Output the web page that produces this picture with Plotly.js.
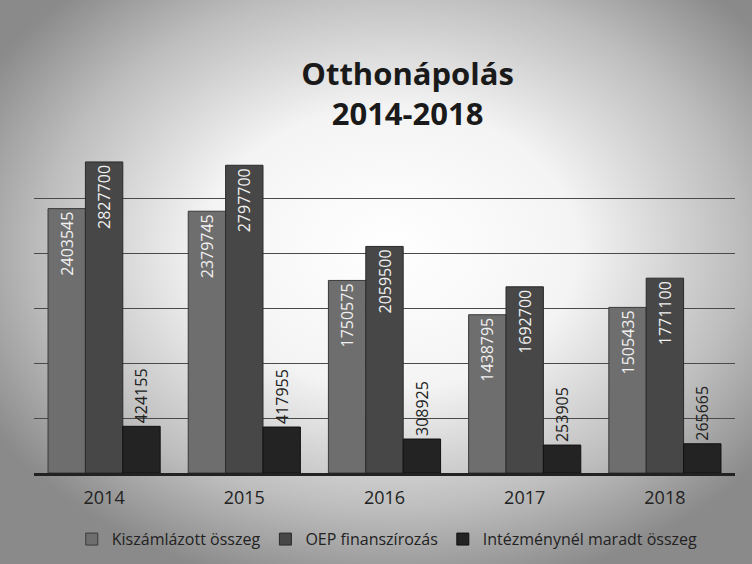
<!DOCTYPE html>
<html>
<head>
<meta charset="utf-8">
<script src="https://cdn.plot.ly/plotly-3.0.1.min.js"></script>
<style>
  html, body { margin: 0; padding: 0; }
  body {
    width: 752px; height: 564px; overflow: hidden;
    background: radial-gradient(ellipse 62% 62% at 52% 44%, #ffffff 0%, #f4f4f4 40%, #bdbdbd 75%, #8a8a8a 100%);
  }
  #chart { width: 752px; height: 564px; }
</style>
</head>
<body>
<div id="chart"></div>
<script>
const categories = ['2014', '2015', '2016', '2017', '2018'];
const seriesNames = ['Kiszámlázott összeg', 'OEP finanszírozás', 'Intézménynél maradt összeg'];
const kiszamlazott = [2403545, 2379745, 1750575, 1438795, 1505435];
const oep = [2827700, 2797700, 2059500, 1692700, 1771100];
const maradt = [424155, 417955, 308925, 253905, 265665];

const fam = 'Open Sans, Liberation Sans, sans-serif';
const labelFont = { family: fam, size: 16 };

const traces = [
  {
    type: 'bar', name: seriesNames[0], x: categories, y: kiszamlazott,
    text: kiszamlazott.map(String), textposition: 'inside', insidetextanchor: 'end',
    constraintext: 'none',
    textangle: -90, insidetextfont: Object.assign({ color: '#f0f0f0' }, labelFont),
    marker: { color: '#6e6e6e', line: { color: '#3a3a3a', width: 1 } }
  },
  {
    type: 'bar', name: seriesNames[1], x: categories, y: oep,
    text: oep.map(String), textposition: 'inside', insidetextanchor: 'end',
    constraintext: 'none',
    textangle: -90, insidetextfont: Object.assign({ color: '#f0f0f0' }, labelFont),
    marker: { color: '#474747', line: { color: '#2a2a2a', width: 1 } }
  },
  {
    type: 'bar', name: seriesNames[2], x: categories, y: maradt,
    text: maradt.map(String), textposition: 'outside', cliponaxis: false,
    constraintext: 'none',
    textangle: -90, outsidetextfont: Object.assign({ color: '#222222' }, labelFont),
    marker: { color: '#232323', line: { color: '#111111', width: 1 } }
  }
];

const layout = {
  width: 752, height: 564,
  margin: { l: 34, r: 17, t: 143, b: 91, pad: 0 },
  paper_bgcolor: 'rgba(0,0,0,0)',
  plot_bgcolor: 'rgba(0,0,0,0)',
  title: {
    text: '<b>Otthonápolás</b><br><b>2014-2018</b>',
    font: { family: fam, size: 31, color: '#1a1a1a' },
    xref: 'container', x: 0.542, xanchor: 'center',
    yref: 'container', y: 0.85, yanchor: 'top'
  },
  barmode: 'group',
  bargap: 0.2,
  bargroupgap: 0,
  showlegend: true,
  legend: {
    orientation: 'h', xref: 'container', x: 0.515, xanchor: 'center',
    yref: 'container', y: 0.044, yanchor: 'middle',
    font: { family: fam, size: 16, color: '#222' },
    bgcolor: 'rgba(0,0,0,0)', itemwidth: 30
  },
  xaxis: {
    type: 'category',
    tickfont: { family: fam, size: 18, color: '#222' },
    ticklabelstandoff: 6,
    showline: true, linecolor: '#222', linewidth: 3,
    ticks: '', showgrid: false, zeroline: false
  },
  yaxis: {
    range: [0, 3000000], dtick: 500000,
    showticklabels: false, ticks: '',
    showgrid: true, gridcolor: '#4a4a4a', gridwidth: 1,
    zeroline: false, showline: false
  },
  font: { family: fam, color: '#222' }
};

Plotly.newPlot('chart', traces, layout, { displayModeBar: false, staticPlot: true });
</script>
</body>
</html>
